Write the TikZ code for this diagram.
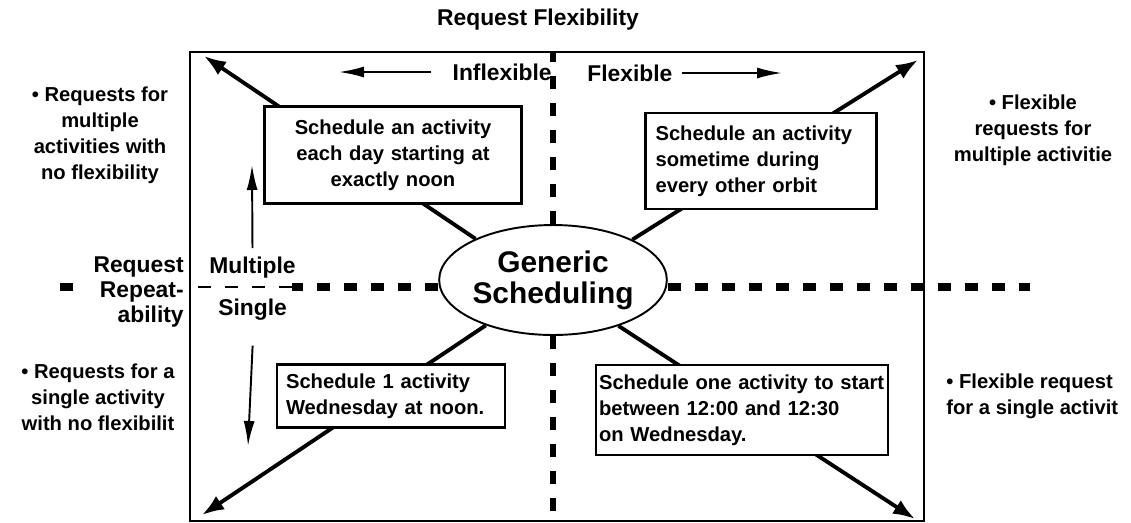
\documentclass[tikz,border=0pt]{standalone}
\usepackage{fontspec}
\setmainfont{Liberation Sans}
\usetikzlibrary{arrows.meta,shapes.geometric}

\newcommand\boxfont{\fontsize{11.5}{14.8}\selectfont\bfseries}
\newcommand\lblfont{\fontsize{13}{14.5}\selectfont\bfseries}
\newcommand\genfont{\fontsize{17}{17.5}\selectfont\bfseries}

\tikzset{
	box/.style={draw, line width=1.6pt, fill=white, font=\boxfont, inner ysep=0pt},
	lbl/.style={font=\lblfont, inner sep=0pt},
	side/.style={font=\boxfont, align=center, inner sep=0pt},
	diag/.style={line width=2.2pt, ->, >={Latex[length=0.44cm,width=0.32cm]}},
	dir/.style={line width=1.1pt, ->, >={Latex[length=0.5cm,width=0.22cm]}},
	divider/.style={line width=4pt, dash pattern=on 0.26cm off 0.28cm},
}

\begin{document}
\begin{tikzpicture}[x=0.02cm,y=-0.02cm]
	\useasboundingbox (0,0) rectangle (1131,522);

	%frame
	\draw[line width=1.6pt] (190,52) rectangle (924,521);

	%centre
	\node[ellipse, draw, line width=1.1pt, fill=white, minimum width=4.22cm, minimum height=2.2cm,
		inner sep=0pt, align=center, font=\genfont] (gen) at (553,280) {Generic\\Scheduling};

	%dividers
	\draw[divider, line width=3.4pt] (gen.north) -- (553,52);
	\draw[divider, line width=3.4pt] (gen.south) -- (553,521);
	\draw[divider] (gen.west |- 0,287) -- (292,287);
	\draw[divider, line width=1.6pt] (292,287) -- (190,287);
	\draw[divider] (gen.east |- 0,287) -- (1030,287);
	\draw[divider] (60,287) -- (73,287);

	%corners
	\coordinate (nw) at (204,56);
	\coordinate (ne) at (918,60);
	\coordinate (sw) at (202,515);
	\coordinate (se) at (915,519);

	%diagonals
	\draw[diag] (gen.152) -- (nw);
	\draw[diag] (gen.27)  -- (ne);
	\draw[diag] (gen.214) -- (sw);
	\draw[diag] (gen.325) -- (se);

	%example boxes
	\node[box, text width=4.9cm, minimum height=1.94cm, align=center] (inflexMulti) at (393,155)
		{Schedule an activity\\each day starting at\\exactly noon};
	\node[box, text width=4.22cm, inner xsep=0.2cm, minimum height=1.92cm, align=left] (flexMulti) at (761,161)
		{Schedule an activity\\sometime during\\every other orbit};
	\node[box, text width=4.2cm, inner xsep=0.18cm, minimum height=1.26cm, align=left] (inflexSingle) at (391,396)
		{Schedule 1 activity\\Wednesday at noon.};
	\node[box, text width=5.72cm, inner xsep=0.06cm, minimum height=1.8cm, align=left] (flexSingle) at (742,410)
		{Schedule one activity to start\\between 12:00 and 12:30\\on Wednesday.};

	%axis labels
	\node[lbl] (title) at (538,20) {Request Flexibility};
	\node[lbl, anchor=east] (inflex) at (552,72) {Inflexible};
	\node[lbl, anchor=west] (flex) at (587,73) {Flexible};
	\node[lbl, anchor=west] (multi) at (209,268) {Multiple};
	\node[lbl, anchor=west] (single) at (218,310) {Single};
	\node[lbl, align=right, anchor=east] (repeat) at (184,292) {Request\\Repeat-\\ability};

	%axis arrows
	\coordinate (inflexEnd) at (339,72);
	\coordinate (flexEnd) at (782,73);
	\coordinate (multiEnd) at (252,165);
	\coordinate (singleEnd) at (248,446);
	\draw[dir] ([xshift=-12pt]inflex.west) -- (inflexEnd);
	\draw[dir] ([xshift=5pt]flex.east) -- (flexEnd);
	\draw[dir] ([yshift=5pt]multi.north) -- (multiEnd);
	\draw[dir] ([yshift=-14pt]single.south) -- (singleEnd);

	%outer notes
	\node[side] (multiNote) at (100,135) {• Requests for\\multiple\\activities with\\no flexibility};
	\node[side] (singleNote) at (98,397) {• Requests for a\\single activity\\with no flexibilit};
	\node[side] (flexMultiNote) at (1033,130) {• Flexible\\requests for\\multiple activitie};
	\node[side, align=left, anchor=west] (flexSingleNote) at (946,396) {• Flexible request\\for a single activit};
\end{tikzpicture}
\end{document}
